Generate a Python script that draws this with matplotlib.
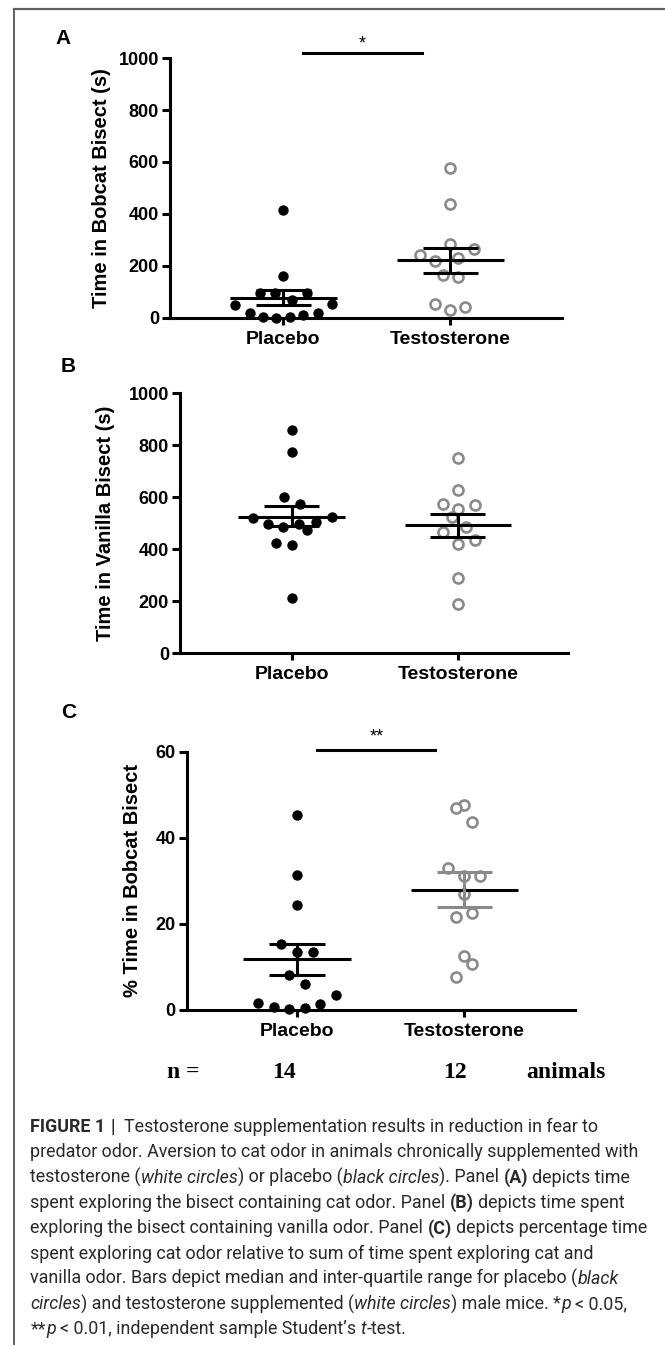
import matplotlib
matplotlib.use("Agg")
import matplotlib.pyplot as plt
from matplotlib.lines import Line2D

W, H = 665, 1345

groups = ["Placebo", "Testosterone"]

# Panel A - time in bobcat bisect (s)
bobcat_placebo = [415, 161, 96, 96, 96, 68, 49, 53, 19, 4, 1, 4, 10, 19]
bobcat_placebo_dx = [0, 0, -0.142, -0.051, 0.145, 0.051, -0.287, 0.292, -0.198, -0.122, -0.041, 0.043, 0.119, 0.208]
bobcat_testo = [576, 437, 283, 267, 242, 220, 229, 165, 156, 55, 30, 42]
bobcat_testo_dx = [0, 0, 0, 0.14, -0.183, -0.094, 0.046, -0.043, 0.046, -0.094, 0, 0.091]
bobcat_bars = [(77, 107, 51), (222, 270, 175)]   # centre, upper, lower

# Panel B - time in vanilla bisect (s)
vanilla_placebo = [856, 774, 599, 574, 519, 523, 497, 485, 497, 503, 474, 423, 414, 212]
vanilla_placebo_dx = [0, 0, -0.046, 0.051, -0.232, 0.24, -0.143, -0.051, 0.043, 0.145, 0.094, -0.092, 0, 0]
vanilla_testo = [750, 628, 574, 571, 554, 523, 485, 465, 436, 421, 288, 188]
vanilla_testo_dx = [0, 0, -0.089, 0.102, 0, -0.038, 0.051, -0.089, 0.102, 0, 0, 0]
vanilla_bars = [(523, 567, 487), (491, 535, 445)]

# Panel C - % time in bobcat bisect
pct_placebo = [45.3, 31.5, 24.4, 15.3, 13.5, 13.5, 8.1, 6.0, 3.6, 1.7, 0.8, 0.3, 0.5, 1.5]
pct_placebo_dx = [0, 0, 0, -0.094, 0, 0.094, -0.046, 0.046, 0.233, -0.233, -0.139, -0.046, 0.046, 0.139]
pct_testo = [47.6, 47.0, 43.7, 33.1, 31.2, 31.2, 26.9, 21.7, 22.5, 12.5, 10.7, 7.6]
pct_testo_dx = [0, -0.051, 0.043, -0.096, 0, 0.094, 0, -0.051, 0.043, 0, 0.043, -0.051]
pct_bars = [(11.8, 15.3, 8.1), (27.9, 32.0, 24.0)]

n_labels = ["n =", "14", "12", "animals"]

GRAY = "#8a8a8a"
LW = 2.2

fig = plt.figure(figsize=(W / 100, H / 100), dpi=100)
fig.patch.set_facecolor("white")
plt.rcParams["font.family"] = ["Liberation Sans", "DejaVu Sans"]


def px(x, y):
    return x / W, 1 - y / H


def draw_panel(rect, plac, pdx, test, tdx, bars, ymax, yticks, ylabel, xlim,
               label_x, bar_colors):
    ax = fig.add_axes(rect)
    ax.scatter([0 + d for d in pdx], plac, s=56, color="black", zorder=3,
               clip_on=False, linewidths=0)
    ax.scatter([1 + d for d in tdx], test, s=52, facecolor="white",
               edgecolor=GRAY, linewidths=1.9, zorder=3, clip_on=False)
    for i, (mid, up, lo) in enumerate(bars):
        c = bar_colors[i]
        ax.plot([i - 0.32, i + 0.32], [mid, mid], color="black", lw=LW, zorder=4,
                solid_capstyle="butt")
        ax.plot([i - 0.165, i + 0.165], [up, up], color=c, lw=LW, zorder=4,
                solid_capstyle="butt")
        ax.plot([i - 0.165, i + 0.165], [lo, lo], color=c, lw=LW, zorder=4,
                solid_capstyle="butt")
        ax.plot([i, i], [lo, up], color=c, lw=LW, zorder=4)
    ax.set_xlim(*xlim)
    ax.set_ylim(0, ymax)
    ax.set_yticks(yticks)
    ax.set_yticklabels([str(t) for t in yticks])
    ax.set_xticks([0, 1])
    ax.set_xticklabels(groups)
    for s in ["top", "right"]:
        ax.spines[s].set_visible(False)
    for s in ["left", "bottom"]:
        ax.spines[s].set_linewidth(LW)
    ax.tick_params(axis="y", length=6, width=LW, pad=2)
    ax.tick_params(axis="x", length=5, width=LW, pad=4)
    for t in ax.get_yticklabels():
        t.set_fontsize(13)
        t.set_fontweight("bold")
    for t in ax.get_xticklabels():
        t.set_fontsize(14)
        t.set_fontweight("bold")
    ax.set_ylabel(ylabel, fontsize=14.5, fontweight="bold")
    ax.yaxis.set_label_coords(label_x, 0.5)
    return ax


axA = draw_panel([170 / W, 1 - 318 / H, 392 / W, 260 / H],
                 bobcat_placebo, bobcat_placebo_dx, bobcat_testo, bobcat_testo_dx,
                 bobcat_bars, 1000, [0, 200, 400, 600, 800, 1000],
                 "Time in Bobcat Bisect (s)", (-0.678, 1.669), -0.15,
                 ["black", "black"])
axA.plot([0.118, 0.83], [1019, 1019], color="black", lw=LW, clip_on=False)
axA.text(0.474, 1055, "*", ha="center", va="center", fontsize=13)

axB = draw_panel([180 / W, 1 - 653 / H, 388 / W, 260 / H],
                 vanilla_placebo, vanilla_placebo_dx, vanilla_testo, vanilla_testo_dx,
                 vanilla_bars, 1000, [0, 200, 400, 600, 800, 1000],
                 "Time in Vanilla Bisect (s)", (-0.671, 1.662), -0.168,
                 ["black", "black"])

axC = draw_panel([186.6 / W, 1 - 1010 / H, 388 / W, 258 / H],
                 pct_placebo, pct_placebo_dx, pct_testo, pct_testo_dx,
                 pct_bars, 60, [0, 20, 40, 60],
                 "% Time in Bobcat Bisect", (-0.659, 1.658), -0.115,
                 ["black", GRAY])
axC.plot([0.121, 0.827], [60.5, 60.5], color="black", lw=LW, clip_on=False)
axC.text(0.474, 63.4, "**", ha="center", va="center", fontsize=13)

# panel letters
for letter, (x, y) in zip("ABC", [(63, 39), (68, 366), (69, 713)]):
    fig.text(*px(x, y), letter, fontsize=15, fontweight="bold",
             ha="center", va="center")

# n = row
for lab, x in zip(n_labels, [183, 284, 455, 566]):
    fig.text(*px(x, 1072), lab, fontsize=17, fontweight="bold",
             family="Liberation Serif", ha="center", va="center")

# frame
fig.add_artist(Line2D([14 / W, 14 / W], [0, 1 - 9 / H], transform=fig.transFigure,
                      color="#606060", lw=1.4))
fig.add_artist(Line2D([14 / W, 1], [1 - 9 / H, 1 - 9 / H], transform=fig.transFigure,
                      color="#606060", lw=1.6))

# caption
caption = [
    [("FIGURE 1", "b"), (" |  ", "b"),
     ("Testosterone supplementation results in reduction in fear to", "r")],
    [("predator odor. Aversion to cat odor in animals chronically supplemented with", "r")],
    [("testosterone (", "r"), ("white circles", "i"), (") or placebo (", "r"),
     ("black circles", "i"), ("). Panel ", "r"), ("(A)", "b"), (" depicts time", "r")],
    [("spent exploring the bisect containing cat odor. Panel ", "r"), ("(B)", "b"),
     (" depicts time spent", "r")],
    [("exploring the bisect containing vanilla odor. Panel ", "r"), ("(C)", "b"),
     (" depicts percentage time", "r")],
    [("spent exploring cat odor relative to sum of time spent exploring cat and", "r")],
    [("vanilla odor. Bars depict median and inter-quartile range for placebo (", "r"),
     ("black", "i")],
    [("circles", "i"), (") and testosterone supplemented (", "r"), ("white circles", "i"),
     (") male mice. *", "r"), ("p", "i"), (" < 0.05,", "r")],
    [("**", "r"), ("p", "i"), (" < 0.01, independent sample Student\u2019s ", "r"),
     ("t", "i"), ("-test.", "r")],
]

styles = {
    "r": dict(family="Roboto", fontweight="normal", fontstyle="normal"),
    "b": dict(family="Roboto", fontweight="bold", fontstyle="normal"),
    "i": dict(family="Roboto", fontweight="normal", fontstyle="italic"),
}
CAP_SIZE = 12.85
renderer = fig.canvas.get_renderer()


def width_of(s, st):
    t = fig.text(0, 0, s, fontsize=CAP_SIZE, **styles[st])
    w = t.get_window_extent(renderer).width
    t.remove()
    return w


space_w = {k: width_of("x x", k) - width_of("xx", k) for k in styles}

y0 = 1127
for i, line in enumerate(caption):
    x = 30.5
    y = y0 + i * 25.3
    for seg, st in line:
        lead = len(seg) - len(seg.lstrip(" "))
        trail = len(seg) - len(seg.rstrip(" "))
        core = seg.strip(" ")
        x += lead * space_w[st]
        t = fig.text(*px(x, y), core, fontsize=CAP_SIZE, va="center", ha="left",
                     color="#2a2a2a", **styles[st])
        x += t.get_window_extent(renderer).width
        x += trail * space_w[st]

fig.savefig("out.png", dpi=100)
